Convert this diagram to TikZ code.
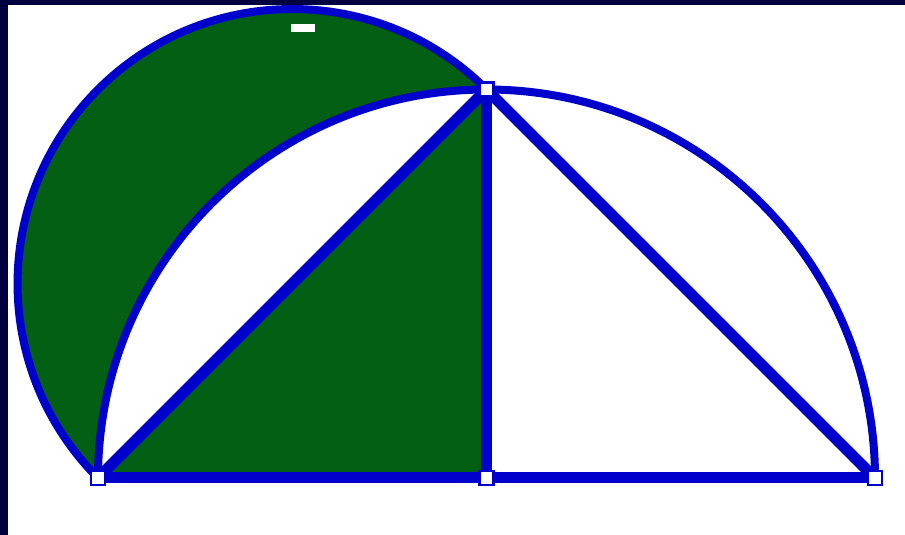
\documentclass[tikz,border=0pt]{standalone}
\usetikzlibrary{calc}
\definecolor{lunegreen}{RGB}{3,95,20}
\definecolor{luneblue}{RGB}{0,0,204}
\definecolor{framenavy}{RGB}{0,0,64}
\tikzset{
  lunearc/.style={draw=luneblue, line width=8pt},
  luneline/.style={draw=luneblue, line width=11pt},
  ptbox/.style={rectangle, draw=luneblue, fill=white, line width=2.5pt,
    minimum size=14pt, inner sep=0pt}
}

\begin{document}
\begin{tikzpicture}[x=1pt,y=1pt]
  \useasboundingbox (0,0) rectangle (905,535);
  \fill[white] (0,0) rectangle (905,535);
  \fill[framenavy] (0,0) rectangle (8,535);
  \fill[framenavy] (0,530) rectangle (905,535);
  \coordinate (A) at (98,57);
  \coordinate (D) at (486.5,57);
  \coordinate (B) at (875,57);
  \coordinate (C) at (486.5,445.5);
  % lune and triangle
  \fill[lunegreen] (C) arc[start angle=45, end angle=225, radius=274.7pt]
    arc[start angle=180, end angle=90, radius=388.5pt] -- cycle;
  \fill[lunegreen] (A) -- (D) -- (C) -- cycle;
  \fill[white] (291,503) rectangle (315,511);
  % arcs
  \draw[lunearc] (C) arc[start angle=45, end angle=225, radius=274.7pt];
  \draw[lunearc] (A) arc[start angle=180, end angle=0, radius=388.5pt];
  % sides
  \draw[luneline] (A) -- (B);
  \draw[luneline] (A) -- (C);
  \draw[luneline] (C) -- (B);
  \draw[luneline] (C) -- (D);
  % points
  \node[ptbox] (markA) at (A) {};
  \node[ptbox] (markD) at (D) {};
  \node[ptbox] (markB) at (B) {};
  \node[ptbox] (markC) at (C) {};
\end{tikzpicture}
\end{document}
